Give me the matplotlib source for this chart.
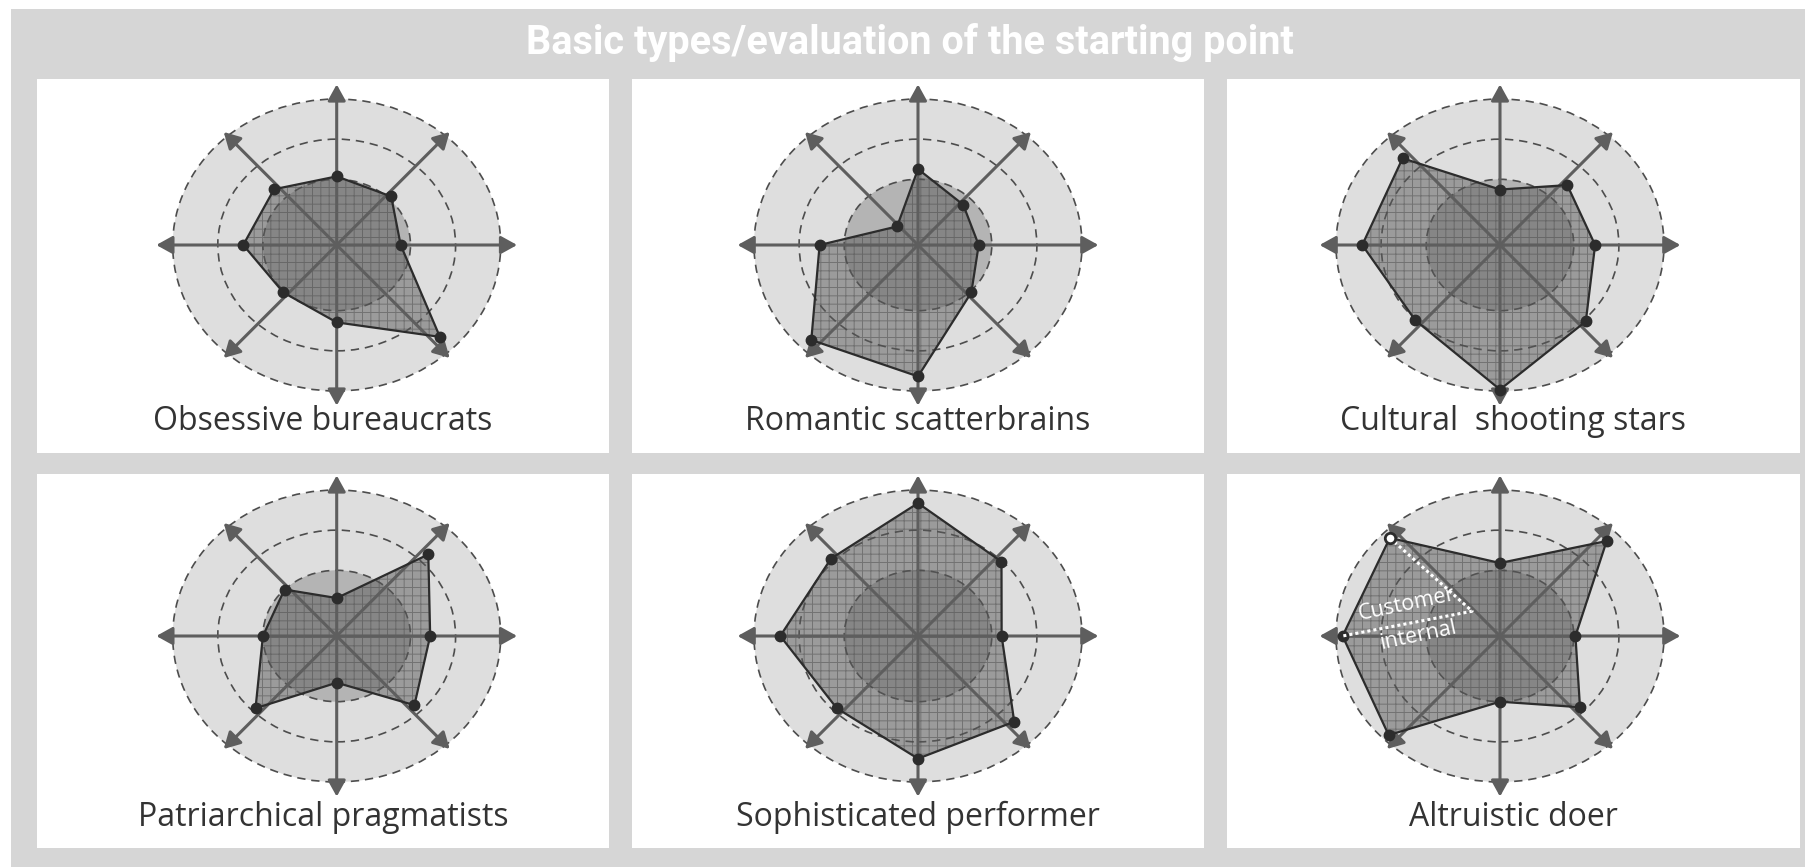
import numpy as np
import matplotlib
matplotlib.use("Agg")
import matplotlib.pyplot as plt
from matplotlib.patches import Rectangle, Circle, Polygon, FancyArrowPatch

W, H = 1805, 867

title = "Basic types/evaluation of the starting point"
types = ["Obsessive bureaucrats", "Romantic scatterbrains", "Cultural  shooting stars",
         "Patriarchical pragmatists", "Sophisticated performer", "Altruistic doer"]

# values per axis, clockwise from top: N, NE, E, SE, S, SW, W, NW (outer ring = 100)
obsessive = [47, 47, 39, 89, 53, 46, 57, 54]
romantic = [52, 39, 37, 46, 90, 92, 60, 18]
cultural = [38, 58, 58, 74, 99, 73, 84, 84]
patriarchal = [26, 79, 57, 67, 32, 70, 45, 45]
sophisticated = [91, 72, 51, 83, 84, 70, 84, 75]
altruistic = [50, 92, 46, 69, 45, 96, 96, 95]
series = [obsessive, romantic, cultural, patriarchal, sophisticated, altruistic]

rings = [45, 72.5, 100]

# layout (pixels)
RX, RY = 164, 146
panel_left = [37, 632, 1227]
panel_w = [572, 572, 573]
panel_top = [79, 474]
panel_h = 374
centers_x = [336.7, 918, 1500]
centers_y = [245, 636]
label_y = [430, 826]

BG = "#d6d6d6"
AXC = "#5e5e5e"
DARK = "#2c2c2c"

fig = plt.figure(figsize=(W / 100, H / 100), dpi=100)
fig.patch.set_facecolor("white")
plt.rcParams["hatch.linewidth"] = 0.7

bg = fig.add_axes([0, 0, 1, 1])
bg.set_xlim(0, W)
bg.set_ylim(H, 0)
bg.axis("off")
bg.add_patch(Rectangle((11, 9), W - 11, H - 9, color=BG, lw=0))
bg.text(910, 43, title, ha="center", va="center", color="white", fontsize=28.5,
        fontweight="bold", family=["Roboto", "DejaVu Sans"])

angles = np.deg2rad(90 - 45 * np.arange(8))

for i, (name, vals) in enumerate(zip(types, series)):
    row, col = divmod(i, 3)
    bg.add_patch(Rectangle((panel_left[col], panel_top[row]), panel_w[col], panel_h,
                           color="white", lw=0))
    bg.text(panel_left[col] + panel_w[col] / 2, label_y[row], name, ha="center",
            va="baseline", fontsize=23, color="#333333", family=["Open Sans", "DejaVu Sans"])

    cx, cy = centers_x[col], centers_y[row]
    ax = fig.add_axes([(cx - 1.25 * RX) / W, (H - cy - 1.25 * RY) / H,
                       2.5 * RX / W, 2.5 * RY / H])
    ax.set_xlim(-1.25, 1.25)
    ax.set_ylim(-1.25, 1.25)
    ax.axis("off")

    ax.add_patch(Circle((0, 0), 1.0, color="#dedede", lw=0, zorder=1))
    ax.add_patch(Circle((0, 0), rings[0] / 100, color="#b4b4b4", lw=0, zorder=1))
    for r in rings:
        ax.add_patch(Circle((0, 0), r / 100, fill=False, ec="#4d4d4d", lw=1.2,
                            ls=(0, (5, 3.5)), zorder=2))

    v = np.array(vals) / 100
    xs = v * np.cos(angles)
    ys = v * np.sin(angles)
    ax.add_patch(Polygon(np.column_stack([xs, ys]), closed=True, fc="#5a5a5a",
                         ec="#4a4a4a", lw=0, hatch="++", alpha=0.5, zorder=3))

    # axis arrows, drawn at 45 degrees in pixel space
    for k in range(8):
        a = np.pi / 2 - k * np.pi / 4
        if k % 2 == 0:
            tip = (1.1 * np.cos(a), 1.1 * np.sin(a))
        else:
            tip = (113 * np.sign(np.cos(a)) / RX, 113 * np.sign(np.sin(a)) / RY)
        ax.add_patch(FancyArrowPatch((0, 0), tip, arrowstyle="-|>,head_length=0.65,head_width=0.36",
                                     mutation_scale=15, color=AXC, lw=2.2,
                                     shrinkA=0, shrinkB=0, zorder=4, clip_on=False))

    ax.plot(np.append(xs, xs[0]), np.append(ys, ys[0]), color=DARK, lw=1.6, zorder=5)
    ax.plot(xs, ys, "o", color=DARK, ms=7.5, zorder=6)

    if name == "Altruistic doer":
        # customer / internal split
        turn = 0.24
        px = [xs[7], turn * np.cos(angles[7]), xs[6]]
        py = [ys[7], turn * np.sin(angles[7]), ys[6]]
        ax.plot(px, py, color="white", lw=2.2, ls=(0, (1, 1)), zorder=7)
        ax.plot(xs[7], ys[7], "o", mfc="white", mec=DARK, mew=2, ms=7.5, zorder=8)
        ax.text(-0.57, 0.215, "Customer", color="white", fontsize=15.5, rotation=12,
                ha="center", va="center", family=["Open Sans", "DejaVu Sans"], zorder=8)
        ax.text(-0.50, 0.0, "internal", color="white", fontsize=15.5, rotation=12,
                ha="center", va="center", family=["Open Sans", "DejaVu Sans"], zorder=8)

fig.savefig("out.png", dpi=100)
